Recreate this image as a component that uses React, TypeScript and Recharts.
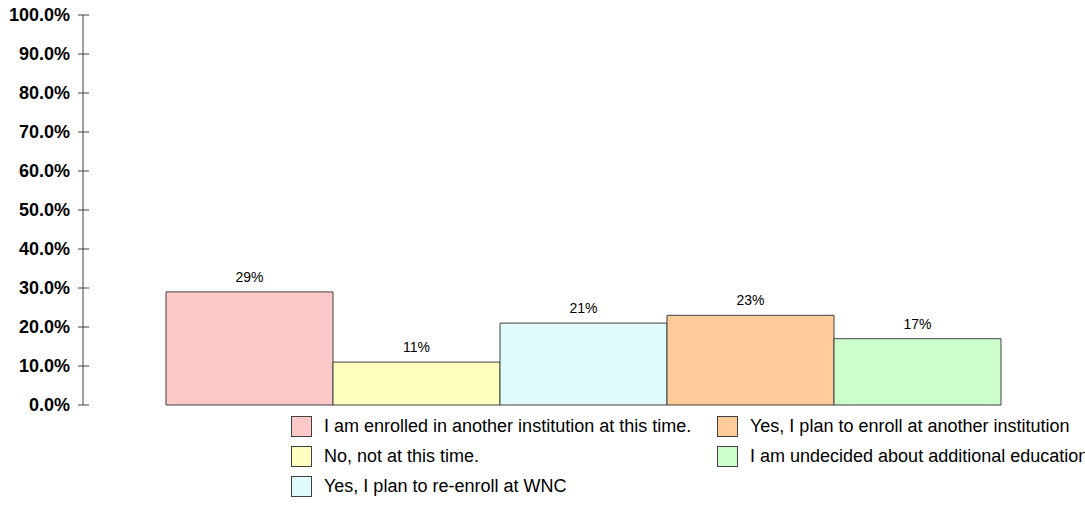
import React from 'react'
import { BarChart, Bar, XAxis, YAxis, Legend, LabelList } from 'recharts'

const categories = ['Plans']
const seriesKeys = ['enrolledElsewhere', 'notNow', 'reenrollWnc', 'enrollOther', 'undecided']
const seriesNames = [
	'I am enrolled in another institution at this time.',
	'No, not at this time.',
	'Yes, I plan to re-enroll at WNC',
	'Yes, I plan to enroll at another institution',
	'I am undecided about additional education',
]
const seriesValues = [29, 11, 21, 23, 17]
const seriesColors = ['#FFC8C8', '#FFFFC0', '#DFFBFB', '#FFCC99', '#CCFFCC']
const yTicks = [0, 10, 20, 30, 40, 50, 60, 70, 80, 90, 100]

const FONT = 'Liberation Sans, Arial, Helvetica, sans-serif'
const EDGE = '#404040'

const data = categories.map(name => {
	const row: Record<string, string | number> = { name }
	seriesKeys.forEach((k, i) => { row[k] = seriesValues[i] })
	return row
})

const YTick = ({ x, y, payload }: any) => (
	<g>
		<line x1={x - 5} x2={x + 6} y1={y} y2={y} stroke={EDGE} />
		<text
			x={x - 13}
			y={y}
			dy={6}
			textAnchor="end"
			style={{ fontFamily: FONT, fontWeight: 700, fontSize: 18 }}
			fill="#000"
		>
			{`${Number(payload.value).toFixed(1)}%`}
		</text>
	</g>
)

// legend is laid out column-first: 3 rows, 2 columns
const CustomLegend = () => (
	<div style={{ position: 'relative', width: 1085, height: 510, fontFamily: FONT }}>
		{seriesKeys.map((k, i) => {
			const col = Math.floor(i / 3)
			const row = i % 3
			return (
				<div
					key={k}
					style={{
						position: 'absolute',
						left: col === 0 ? 291 : 717,
						top: 416 + row * 30,
						height: 21,
						display: 'flex',
						alignItems: 'center',
						whiteSpace: 'nowrap',
					}}
				>
					<div
						style={{
							width: 19,
							height: 19,
							background: seriesColors[i],
							border: `1px solid ${EDGE}`,
						}}
					/>
					<span style={{ marginLeft: 12, fontSize: 18, color: '#000' }}>{seriesNames[i]}</span>
				</div>
			)
		})}
	</div>
)

export default function App() {
	return (
		<div style={{ position: 'absolute', left: 0, top: 0, width: 1085, height: 510, overflow: 'hidden', background: '#fff' }}>
			<BarChart
				width={1085}
				height={510}
				data={data}
				margin={{ top: 15, right: 2, left: 0, bottom: 105 }}
				barCategoryGap={83}
				barGap={0}
			>
				<XAxis dataKey="name" tick={false} tickLine={false} height={0} axisLine={{ stroke: EDGE }} />
				<YAxis
					width={83}
					domain={[0, 100]}
					ticks={yTicks}
					interval={0}
					tickSize={0}
					tickMargin={0}
					tickLine={false}
					axisLine={{ stroke: EDGE }}
					tick={<YTick />}
				/>
				<Legend
					layout="horizontal"
					verticalAlign="middle"
					align="center"
					content={<CustomLegend />}
					wrapperStyle={{ top: 0, left: 0, width: 1085, height: 510, pointerEvents: 'none' }}
				/>
				{seriesKeys.map((k, i) => (
					<Bar
						key={k}
						dataKey={k}
						name={seriesNames[i]}
						fill={seriesColors[i]}
						stroke={EDGE}
						strokeWidth={1}
						isAnimationActive={false}
					>
						<LabelList
							dataKey={k}
							position="top"
							offset={10}
							formatter={(v: any) => `${v}%`}
							style={{ fontFamily: FONT, fontSize: 14, fill: '#000' }}
						/>
					</Bar>
				))}
			</BarChart>
		</div>
	)
}
